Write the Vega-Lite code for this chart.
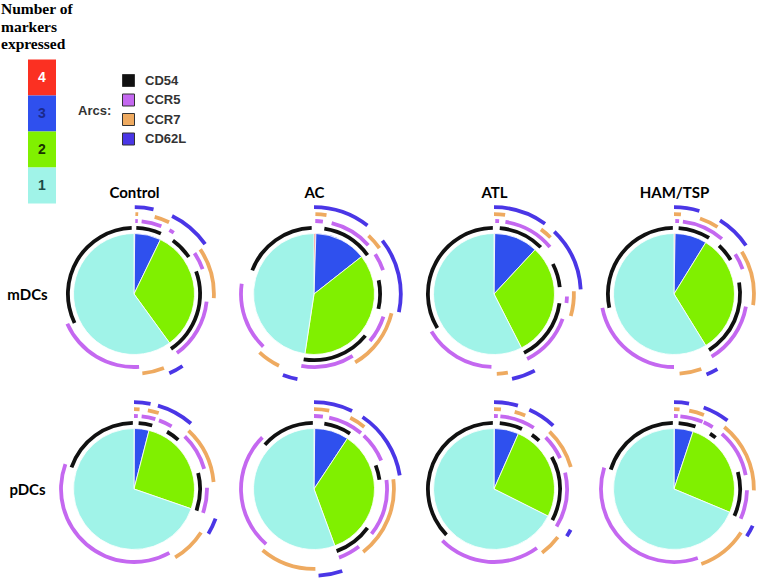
{
  "$schema": "https://vega.github.io/schema/vega-lite/v6.json",
  "width": 767,
  "height": 582,
  "autosize": {"type": "none"},
  "padding": 0,
  "background": "white",
  "config": {"view": {"stroke": null}},
  "datasets": {
    "pie": [
      {"cell": "mDCs", "group": "Control", "n": 4, "pct": 0.2},
      {"cell": "mDCs", "group": "Control", "n": 3, "pct": 7.0},
      {"cell": "mDCs", "group": "Control", "n": 2, "pct": 32.8},
      {"cell": "mDCs", "group": "Control", "n": 1, "pct": 60.0},
      {"cell": "mDCs", "group": "AC", "n": 4, "pct": 0.5},
      {"cell": "mDCs", "group": "AC", "n": 3, "pct": 13.9},
      {"cell": "mDCs", "group": "AC", "n": 2, "pct": 38.0},
      {"cell": "mDCs", "group": "AC", "n": 1, "pct": 47.6},
      {"cell": "mDCs", "group": "ATL", "n": 4, "pct": 0.2},
      {"cell": "mDCs", "group": "ATL", "n": 3, "pct": 11.7},
      {"cell": "mDCs", "group": "ATL", "n": 2, "pct": 30.6},
      {"cell": "mDCs", "group": "ATL", "n": 1, "pct": 57.5},
      {"cell": "mDCs", "group": "HAM/TSP", "n": 4, "pct": 0.3},
      {"cell": "mDCs", "group": "HAM/TSP", "n": 3, "pct": 8.5},
      {"cell": "mDCs", "group": "HAM/TSP", "n": 2, "pct": 32.4},
      {"cell": "mDCs", "group": "HAM/TSP", "n": 1, "pct": 58.8},
      {"cell": "pDCs", "group": "Control", "n": 4, "pct": 0.1},
      {"cell": "pDCs", "group": "Control", "n": 3, "pct": 3.9},
      {"cell": "pDCs", "group": "Control", "n": 2, "pct": 26.3},
      {"cell": "pDCs", "group": "Control", "n": 1, "pct": 69.7},
      {"cell": "pDCs", "group": "AC", "n": 4, "pct": 0.2},
      {"cell": "pDCs", "group": "AC", "n": 3, "pct": 9.1},
      {"cell": "pDCs", "group": "AC", "n": 2, "pct": 35.1},
      {"cell": "pDCs", "group": "AC", "n": 1, "pct": 55.6},
      {"cell": "pDCs", "group": "ATL", "n": 4, "pct": 0.1},
      {"cell": "pDCs", "group": "ATL", "n": 3, "pct": 6.5},
      {"cell": "pDCs", "group": "ATL", "n": 2, "pct": 25.8},
      {"cell": "pDCs", "group": "ATL", "n": 1, "pct": 67.6},
      {"cell": "pDCs", "group": "HAM/TSP", "n": 4, "pct": 0.1},
      {"cell": "pDCs", "group": "HAM/TSP", "n": 3, "pct": 5.0},
      {"cell": "pDCs", "group": "HAM/TSP", "n": 2, "pct": 26.2},
      {"cell": "pDCs", "group": "HAM/TSP", "n": 1, "pct": 68.7}
    ],
    "arcs": [
      {"cell": "mDCs", "group": "Control", "marker": "CD54", "a0": 244, "a1": 358},
      {"cell": "mDCs", "group": "Control", "marker": "CD54", "a0": 2, "a1": 24},
      {"cell": "mDCs", "group": "Control", "marker": "CD54", "a0": 36, "a1": 56},
      {"cell": "mDCs", "group": "Control", "marker": "CD54", "a0": 70, "a1": 146},
      {"cell": "mDCs", "group": "Control", "marker": "CCR5", "a0": 176, "a1": 246},
      {"cell": "mDCs", "group": "Control", "marker": "CCR5", "a0": 1, "a1": 3},
      {"cell": "mDCs", "group": "Control", "marker": "CCR5", "a0": 6, "a1": 22},
      {"cell": "mDCs", "group": "Control", "marker": "CCR5", "a0": 29, "a1": 33},
      {"cell": "mDCs", "group": "Control", "marker": "CCR5", "a0": 56, "a1": 70},
      {"cell": "mDCs", "group": "Control", "marker": "CCR5", "a0": 96, "a1": 144},
      {"cell": "mDCs", "group": "Control", "marker": "CCR7", "a0": 1, "a1": 3},
      {"cell": "mDCs", "group": "Control", "marker": "CCR7", "a0": 15, "a1": 26},
      {"cell": "mDCs", "group": "Control", "marker": "CCR7", "a0": 56, "a1": 93},
      {"cell": "mDCs", "group": "Control", "marker": "CCR7", "a0": 158, "a1": 174},
      {"cell": "mDCs", "group": "Control", "marker": "CD62L", "a0": 0.5, "a1": 13},
      {"cell": "mDCs", "group": "Control", "marker": "CD62L", "a0": 26, "a1": 55},
      {"cell": "mDCs", "group": "Control", "marker": "CD62L", "a0": 146, "a1": 156},

      {"cell": "mDCs", "group": "AC", "marker": "CD54", "a0": 291, "a1": 358},
      {"cell": "mDCs", "group": "AC", "marker": "CD54", "a0": 9, "a1": 54},
      {"cell": "mDCs", "group": "AC", "marker": "CD54", "a0": 78, "a1": 103},
      {"cell": "mDCs", "group": "AC", "marker": "CD54", "a0": 129, "a1": 189},
      {"cell": "mDCs", "group": "AC", "marker": "CCR5", "a0": 1, "a1": 7},
      {"cell": "mDCs", "group": "AC", "marker": "CCR5", "a0": 14, "a1": 48},
      {"cell": "mDCs", "group": "AC", "marker": "CCR5", "a0": 57, "a1": 71},
      {"cell": "mDCs", "group": "AC", "marker": "CCR5", "a0": 108, "a1": 130},
      {"cell": "mDCs", "group": "AC", "marker": "CCR5", "a0": 148, "a1": 190},
      {"cell": "mDCs", "group": "AC", "marker": "CCR5", "a0": 224, "a1": 278},
      {"cell": "mDCs", "group": "AC", "marker": "CCR7", "a0": 1, "a1": 9},
      {"cell": "mDCs", "group": "AC", "marker": "CCR7", "a0": 43, "a1": 55},
      {"cell": "mDCs", "group": "AC", "marker": "CCR7", "a0": 104, "a1": 149},
      {"cell": "mDCs", "group": "AC", "marker": "CCR7", "a0": 206, "a1": 223},
      {"cell": "mDCs", "group": "AC", "marker": "CD62L", "a0": 0, "a1": 38},
      {"cell": "mDCs", "group": "AC", "marker": "CD62L", "a0": 52, "a1": 102},
      {"cell": "mDCs", "group": "AC", "marker": "CD62L", "a0": 191, "a1": 201},

      {"cell": "mDCs", "group": "ATL", "marker": "CD54", "a0": 239, "a1": 359},
      {"cell": "mDCs", "group": "ATL", "marker": "CD54", "a0": 5, "a1": 45},
      {"cell": "mDCs", "group": "ATL", "marker": "CD54", "a0": 63, "a1": 84},
      {"cell": "mDCs", "group": "ATL", "marker": "CD54", "a0": 98, "a1": 153},
      {"cell": "mDCs", "group": "ATL", "marker": "CCR5", "a0": 1, "a1": 4},
      {"cell": "mDCs", "group": "ATL", "marker": "CCR5", "a0": 9, "a1": 50},
      {"cell": "mDCs", "group": "ATL", "marker": "CCR5", "a0": 92, "a1": 97},
      {"cell": "mDCs", "group": "ATL", "marker": "CCR5", "a0": 110, "a1": 153},
      {"cell": "mDCs", "group": "ATL", "marker": "CCR5", "a0": 182, "a1": 239},
      {"cell": "mDCs", "group": "ATL", "marker": "CCR7", "a0": 0, "a1": 8},
      {"cell": "mDCs", "group": "ATL", "marker": "CCR7", "a0": 36, "a1": 45},
      {"cell": "mDCs", "group": "ATL", "marker": "CCR7", "a0": 88, "a1": 106},
      {"cell": "mDCs", "group": "ATL", "marker": "CCR7", "a0": 170, "a1": 178},
      {"cell": "mDCs", "group": "ATL", "marker": "CD62L", "a0": 0, "a1": 36},
      {"cell": "mDCs", "group": "ATL", "marker": "CD62L", "a0": 44, "a1": 87},
      {"cell": "mDCs", "group": "ATL", "marker": "CD62L", "a0": 152, "a1": 168},

      {"cell": "mDCs", "group": "HAM/TSP", "marker": "CD54", "a0": 258, "a1": 359},
      {"cell": "mDCs", "group": "HAM/TSP", "marker": "CD54", "a0": 4, "a1": 32},
      {"cell": "mDCs", "group": "HAM/TSP", "marker": "CD54", "a0": 43, "a1": 59},
      {"cell": "mDCs", "group": "HAM/TSP", "marker": "CD54", "a0": 80, "a1": 148},
      {"cell": "mDCs", "group": "HAM/TSP", "marker": "CCR5", "a0": 1, "a1": 4},
      {"cell": "mDCs", "group": "HAM/TSP", "marker": "CCR5", "a0": 7, "a1": 41},
      {"cell": "mDCs", "group": "HAM/TSP", "marker": "CCR5", "a0": 57, "a1": 70},
      {"cell": "mDCs", "group": "HAM/TSP", "marker": "CCR5", "a0": 100, "a1": 149},
      {"cell": "mDCs", "group": "HAM/TSP", "marker": "CCR5", "a0": 180, "a1": 259},
      {"cell": "mDCs", "group": "HAM/TSP", "marker": "CCR7", "a0": 0, "a1": 5},
      {"cell": "mDCs", "group": "HAM/TSP", "marker": "CCR7", "a0": 19, "a1": 33},
      {"cell": "mDCs", "group": "HAM/TSP", "marker": "CCR7", "a0": 58, "a1": 98},
      {"cell": "mDCs", "group": "HAM/TSP", "marker": "CCR7", "a0": 160, "a1": 176},
      {"cell": "mDCs", "group": "HAM/TSP", "marker": "CD62L", "a0": 0, "a1": 17},
      {"cell": "mDCs", "group": "HAM/TSP", "marker": "CD62L", "a0": 32, "a1": 56},
      {"cell": "mDCs", "group": "HAM/TSP", "marker": "CD62L", "a0": 150, "a1": 158},

      {"cell": "pDCs", "group": "Control", "marker": "CD54", "a0": 289, "a1": 359},
      {"cell": "pDCs", "group": "Control", "marker": "CD54", "a0": 4, "a1": 16},
      {"cell": "pDCs", "group": "Control", "marker": "CD54", "a0": 30, "a1": 42},
      {"cell": "pDCs", "group": "Control", "marker": "CD54", "a0": 76, "a1": 109},
      {"cell": "pDCs", "group": "Control", "marker": "CCR5", "a0": 0, "a1": 3},
      {"cell": "pDCs", "group": "Control", "marker": "CCR5", "a0": 6, "a1": 17},
      {"cell": "pDCs", "group": "Control", "marker": "CCR5", "a0": 20, "a1": 31},
      {"cell": "pDCs", "group": "Control", "marker": "CCR5", "a0": 44, "a1": 74},
      {"cell": "pDCs", "group": "Control", "marker": "CCR5", "a0": 89, "a1": 109},
      {"cell": "pDCs", "group": "Control", "marker": "CCR5", "a0": 151, "a1": 290},
      {"cell": "pDCs", "group": "Control", "marker": "CCR7", "a0": 0, "a1": 4},
      {"cell": "pDCs", "group": "Control", "marker": "CCR7", "a0": 10, "a1": 18},
      {"cell": "pDCs", "group": "Control", "marker": "CCR7", "a0": 43, "a1": 85},
      {"cell": "pDCs", "group": "Control", "marker": "CCR7", "a0": 123, "a1": 149},
      {"cell": "pDCs", "group": "Control", "marker": "CD62L", "a0": 0, "a1": 11},
      {"cell": "pDCs", "group": "Control", "marker": "CD62L", "a0": 16, "a1": 41},
      {"cell": "pDCs", "group": "Control", "marker": "CD62L", "a0": 110, "a1": 121},

      {"cell": "pDCs", "group": "AC", "marker": "CD54", "a0": 312, "a1": 359},
      {"cell": "pDCs", "group": "AC", "marker": "CD54", "a0": 9, "a1": 33},
      {"cell": "pDCs", "group": "AC", "marker": "CD54", "a0": 69, "a1": 82},
      {"cell": "pDCs", "group": "AC", "marker": "CD54", "a0": 126, "a1": 160},
      {"cell": "pDCs", "group": "AC", "marker": "CCR5", "a0": 0, "a1": 7},
      {"cell": "pDCs", "group": "AC", "marker": "CCR5", "a0": 12, "a1": 40},
      {"cell": "pDCs", "group": "AC", "marker": "CCR5", "a0": 43, "a1": 67},
      {"cell": "pDCs", "group": "AC", "marker": "CCR5", "a0": 83, "a1": 128},
      {"cell": "pDCs", "group": "AC", "marker": "CCR5", "a0": 142, "a1": 160},
      {"cell": "pDCs", "group": "AC", "marker": "CCR5", "a0": 221, "a1": 315},
      {"cell": "pDCs", "group": "AC", "marker": "CCR7", "a0": 0, "a1": 11},
      {"cell": "pDCs", "group": "AC", "marker": "CCR7", "a0": 27, "a1": 39},
      {"cell": "pDCs", "group": "AC", "marker": "CCR7", "a0": 83, "a1": 142},
      {"cell": "pDCs", "group": "AC", "marker": "CCR7", "a0": 179, "a1": 220},
      {"cell": "pDCs", "group": "AC", "marker": "CD62L", "a0": 0, "a1": 26},
      {"cell": "pDCs", "group": "AC", "marker": "CD62L", "a0": 34, "a1": 81},
      {"cell": "pDCs", "group": "AC", "marker": "CD62L", "a0": 161, "a1": 177},

      {"cell": "pDCs", "group": "ATL", "marker": "CD54", "a0": 226, "a1": 359},
      {"cell": "pDCs", "group": "ATL", "marker": "CD54", "a0": 5, "a1": 25},
      {"cell": "pDCs", "group": "ATL", "marker": "CD54", "a0": 35, "a1": 43},
      {"cell": "pDCs", "group": "ATL", "marker": "CD54", "a0": 61, "a1": 118},
      {"cell": "pDCs", "group": "ATL", "marker": "CCR5", "a0": 0, "a1": 3},
      {"cell": "pDCs", "group": "ATL", "marker": "CCR5", "a0": 5, "a1": 33},
      {"cell": "pDCs", "group": "ATL", "marker": "CCR5", "a0": 45, "a1": 65},
      {"cell": "pDCs", "group": "ATL", "marker": "CCR5", "a0": 77, "a1": 121},
      {"cell": "pDCs", "group": "ATL", "marker": "CCR5", "a0": 144, "a1": 225},
      {"cell": "pDCs", "group": "ATL", "marker": "CCR7", "a0": 0, "a1": 5},
      {"cell": "pDCs", "group": "ATL", "marker": "CCR7", "a0": 15, "a1": 23},
      {"cell": "pDCs", "group": "ATL", "marker": "CCR7", "a0": 44, "a1": 74},
      {"cell": "pDCs", "group": "ATL", "marker": "CCR7", "a0": 127, "a1": 143},
      {"cell": "pDCs", "group": "ATL", "marker": "CD62L", "a0": 0, "a1": 16},
      {"cell": "pDCs", "group": "ATL", "marker": "CD62L", "a0": 24, "a1": 43},
      {"cell": "pDCs", "group": "ATL", "marker": "CD62L", "a0": 118, "a1": 123},

      {"cell": "pDCs", "group": "HAM/TSP", "marker": "CD54", "a0": 287, "a1": 359},
      {"cell": "pDCs", "group": "HAM/TSP", "marker": "CD54", "a0": 4, "a1": 19},
      {"cell": "pDCs", "group": "HAM/TSP", "marker": "CD54", "a0": 33, "a1": 39},
      {"cell": "pDCs", "group": "HAM/TSP", "marker": "CD54", "a0": 75, "a1": 114},
      {"cell": "pDCs", "group": "HAM/TSP", "marker": "CCR5", "a0": 0, "a1": 3},
      {"cell": "pDCs", "group": "HAM/TSP", "marker": "CCR5", "a0": 5, "a1": 23},
      {"cell": "pDCs", "group": "HAM/TSP", "marker": "CCR5", "a0": 24, "a1": 32},
      {"cell": "pDCs", "group": "HAM/TSP", "marker": "CCR5", "a0": 41, "a1": 79},
      {"cell": "pDCs", "group": "HAM/TSP", "marker": "CCR5", "a0": 91, "a1": 114},
      {"cell": "pDCs", "group": "HAM/TSP", "marker": "CCR5", "a0": 161, "a1": 287},
      {"cell": "pDCs", "group": "HAM/TSP", "marker": "CCR7", "a0": 0, "a1": 4},
      {"cell": "pDCs", "group": "HAM/TSP", "marker": "CCR7", "a0": 11, "a1": 22},
      {"cell": "pDCs", "group": "HAM/TSP", "marker": "CCR7", "a0": 39, "a1": 91},
      {"cell": "pDCs", "group": "HAM/TSP", "marker": "CCR7", "a0": 123, "a1": 160},
      {"cell": "pDCs", "group": "HAM/TSP", "marker": "CD62L", "a0": 0, "a1": 10},
      {"cell": "pDCs", "group": "HAM/TSP", "marker": "CD62L", "a0": 20, "a1": 38},
      {"cell": "pDCs", "group": "HAM/TSP", "marker": "CD62L", "a0": 115, "a1": 123}
    ]
  },
  "encoding": {
    "x": {
      "field": "group", "type": "nominal",
      "scale": {"type": "point", "domain": ["Control", "AC", "ATL", "HAM/TSP"], "range": [134, 674], "padding": 0},
      "axis": {"orient": "top", "offset": -197, "domain": false, "ticks": false, "tickSize": 0, "grid": false, "labelPadding": 0, "labelBaseline": "alphabetic", "labelAngle": 0, "labelFont": "Lato", "labelFontSize": 15, "labelFontWeight": "bold", "labelColor": "#000000", "title": null}
    },
    "y": {
      "field": "cell", "type": "nominal",
      "scale": {"type": "point", "domain": ["mDCs", "pDCs"], "range": [294, 489], "padding": 0},
      "axis": {"orient": "left", "offset": -27, "domain": false, "ticks": false, "tickSize": 0, "grid": false, "labelPadding": 0, "labelAlign": "center", "labelBaseline": "middle", "labelFont": "Lato", "labelFontSize": 15, "labelFontWeight": "bold", "labelColor": "#000000", "title": null}
    }
  },
  "layer": [
    {
      "data": {"name": "pie"},
      "transform": [
        {"stack": "pct", "groupby": ["cell", "group"], "sort": [{"field": "n", "order": "descending"}], "as": ["p0", "p1"]}
      ],
      "mark": {"type": "arc", "radius": 60.5, "stroke": "#ffffff", "strokeWidth": 0.8},
      "encoding": {
        "theta": {"field": "p0", "type": "quantitative", "scale": {"domain": [0, 100]}},
        "theta2": {"field": "p1"},
        "color": {
          "field": "n", "type": "ordinal",
          "scale": {"domain": [4, 3, 2, 1], "range": ["#fb3022", "#2f50ee", "#80f000", "#a0f3e8"]},
          "legend": {
            "orient": "none", "legendX": 1, "legendY": 2,
            "title": ["Number of", "markers", "expressed"],
            "titleFont": "Liberation Serif", "titleFontSize": 15.5, "titleFontWeight": "bold", "titleColor": "#000000",
            "titleLineHeight": 17.5, "titlePadding": 7, "titleAnchor": "start", "titleBaseline": "top",
            "symbolType": "M-0.7778,-1H0.7778V1H-0.7778Z", "symbolSize": 1296, "symbolStrokeWidth": 0, "symbolOffset": 23, "symbolOpacity": 1,
            "rowPadding": 0, "labelOffset": -18, "labelAlign": "center", "labelBaseline": "middle",
            "labelFont": "Liberation Sans", "labelFontSize": 14, "labelFontWeight": "bold",
            "labelColor": {"expr": "datum.value == 4 ? '#ffffff' : datum.value == 3 ? '#1b2a8c' : datum.value == 2 ? '#1a3300' : '#1b4b45'"}
          }
        }
      }
    },
    {
      "data": {"name": "arcs"},
      "mark": {"type": "arc", "radius2Offset": -3.8},
      "encoding": {
        "theta": {"field": "a0", "type": "quantitative", "scale": {"domain": [0, 360]}},
        "theta2": {"field": "a1"},
        "radius": {"field": "marker", "type": "nominal", "scale": {"type": "point", "domain": ["CD54", "CCR5", "CCR7", "CD62L"], "range": [68, 88.7], "padding": 0}},
        "radius2": {"field": "marker"},
        "fill": {
          "field": "marker", "type": "nominal",
          "scale": {"domain": ["CD54", "CCR5", "CCR7", "CD62L"], "range": ["#111111", "#c468f0", "#eeaa60", "#4a36e6"]},
          "legend": {
            "orient": "none", "legendX": 78, "legendY": 74,
            "title": "Arcs:", "titleOrient": "left", "titleFont": "Liberation Sans", "titleFontSize": 13, "titleFontWeight": "bold", "titleColor": "#333333",
            "titlePadding": 10, "titleAnchor": "middle", "titleBaseline": "middle",
            "symbolType": "square", "symbolSize": 144, "symbolStrokeColor": "#333333", "symbolStrokeWidth": 1, "symbolOpacity": 1,
            "rowPadding": 2.5, "labelOffset": 10, "labelFont": "Liberation Sans", "labelFontSize": 13, "labelFontWeight": "bold", "labelColor": "#333333"
          }
        }
      }
    }
  ],
  "resolve": {"scale": {"theta": "independent"}}
}
